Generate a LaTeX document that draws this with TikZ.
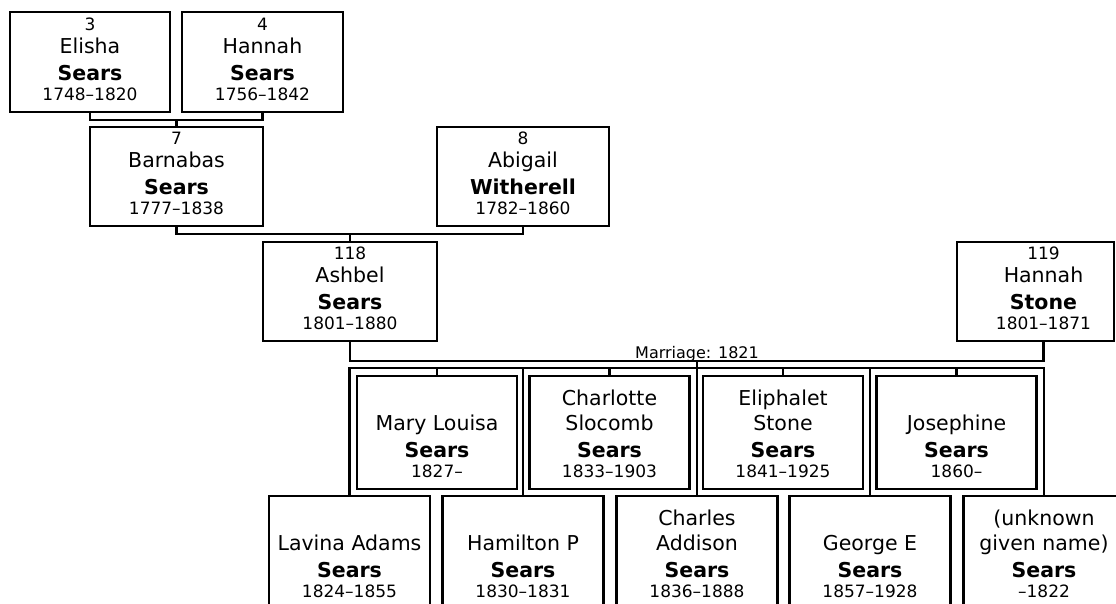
\documentclass[tikz,border=0pt]{standalone}
\usepackage{fontspec}
\setmainfont{DejaVu Sans}
\usetikzlibrary{positioning}

\newcommand{\yrs}{\fontsize{17}{20}\selectfont}

\tikzset{
  person/.style={draw, line width=2.3pt, inner sep=0pt, minimum width=160pt, minimum height=99pt},
  child/.style={person, minimum height=113pt},
  nametext/.style={align=center, inner sep=0pt, font=\fontsize{20.5}{25}\selectfont},
  link/.style={line width=2.3pt},
}

\begin{document}
\begin{tikzpicture}[x=1pt, y=-1pt]
  \useasboundingbox (0,0) rectangle (1116,603);

  % grandparents and parents
  \node[person, minimum height=100pt] (elisha) at (90,62) {};
  \node[nametext, above=12pt of elisha.south] (elishaT) {{\yrs 3}\\[-2pt]Elisha\\[2pt]\textbf{Sears}\\[-5pt]{\yrs 1748--1820}};
  \node[person, minimum width=161pt, minimum height=100pt] (hannahA) at (262.5,62) {};
  \node[nametext, above=12pt of hannahA.south] (hannahAT) {{\yrs 4}\\[-2pt]Hannah\\[2pt]\textbf{Sears}\\[-5pt]{\yrs 1756--1842}};
  \node[person, minimum width=173pt] (barnabas) at (176.5,176.5) {};
  \node[nametext, above=12pt of barnabas.south] (barnabasT) {{\yrs 7}\\[-2pt]Barnabas\\[2pt]\textbf{Sears}\\[-5pt]{\yrs 1777--1838}};
  \node[person, minimum width=172pt] (abigail) at (523,176.5) {};
  \node[nametext, above=12pt of abigail.south] (abigailT) {{\yrs 8}\\[-2pt]Abigail\\[2pt]\textbf{Witherell}\\[-5pt]{\yrs 1782--1860}};
  \node[person, minimum width=174pt] (ashbel) at (350,291.5) {};
  \node[nametext, above=12pt of ashbel.south] (ashbelT) {{\yrs 118}\\[-2pt]Ashbel\\[2pt]\textbf{Sears}\\[-5pt]{\yrs 1801--1880}};
  \node[person, minimum width=157pt] (hannahS) at (1035.5,291.5) {};
  \node[nametext, above=12pt of hannahS.south, xshift=8pt] (hannahST) {{\yrs 119}\\[-2pt]Hannah\\[2pt]\textbf{Stone}\\[-5pt]{\yrs 1801--1871}};

  % children, upper row
  \node[child] (mary) at (437,432.5) {};
  \node[nametext, above=12pt of mary.south] (maryT) {Mary Louisa\\[2pt]\textbf{Sears}\\[-5pt]{\yrs 1827--}};
  \node[child] (charlotte) at (609.5,432.5) {};
  \node[nametext, above=12pt of charlotte.south] (charlotteT) {Charlotte\\Slocomb\\[2pt]\textbf{Sears}\\[-5pt]{\yrs 1833--1903}};
  \node[child] (eliphalet) at (783,432.5) {};
  \node[nametext, above=12pt of eliphalet.south] (eliphaletT) {Eliphalet\\Stone\\[2pt]\textbf{Sears}\\[-5pt]{\yrs 1841--1925}};
  \node[child] (josephine) at (956.5,432.5) {};
  \node[nametext, above=12pt of josephine.south] (josephineT) {Josephine\\[2pt]\textbf{Sears}\\[-5pt]{\yrs 1860--}};

  % children, lower row
  \node[child, minimum width=161pt] (lavina) at (349.5,552.5) {};
  \node[nametext, above=12pt of lavina.south] (lavinaT) {Lavina Adams\\[2pt]\textbf{Sears}\\[-5pt]{\yrs 1824--1855}};
  \node[child, minimum width=161pt] (hamilton) at (523,552.5) {};
  \node[nametext, above=12pt of hamilton.south] (hamiltonT) {Hamilton P\\[2pt]\textbf{Sears}\\[-5pt]{\yrs 1830--1831}};
  \node[child, minimum width=161pt] (charles) at (697,552.5) {};
  \node[nametext, above=12pt of charles.south] (charlesT) {Charles\\Addison\\[2pt]\textbf{Sears}\\[-5pt]{\yrs 1836--1888}};
  \node[child, minimum width=161pt] (george) at (870,552.5) {};
  \node[nametext, above=12pt of george.south] (georgeT) {George E\\[2pt]\textbf{Sears}\\[-5pt]{\yrs 1857--1928}};
  \node[child, minimum width=161pt] (unknown) at (1044,552.5) {};
  \node[nametext, above=12pt of unknown.south] (unknownT) {(unknown\\given name)\\[2pt]\textbf{Sears}\\[-5pt]{\yrs --1822}};

  % couples
  \draw[link] (elisha.south) -- ++(0,7) coordinate (m34) -| (hannahA.south);
  \draw[link] (m34 -| barnabas.north) -- (barnabas.north);
  \draw[link] (barnabas.south) -- ++(0,7) coordinate (m78) -| (abigail.south);
  \draw[link] (m78 -| ashbel.north) -- (ashbel.north);
  \draw[link] (ashbel.south) -- ++(0,19) coordinate (m118) -| ([xshift=8pt]hannahS.south);
  \coordinate (mid) at (m118 -| charles.north);
  \coordinate (sib) at ([yshift=-7pt]mid);
  \node[font=\fontsize{16}{19}\selectfont, inner sep=0pt, anchor=base] (marr) at ([yshift=3pt]mid) {Marriage: 1821};

  % children lines
  \draw[link] (mid) -- (charles.north);
  \draw[link] (lavina.north) |- (sib) -| (unknown.north);
  \draw[link] (sib -| hamilton.north) -- (hamilton.north);
  \draw[link] (sib -| george.north) -- (george.north);
  \draw[link] (sib -| mary.north) -- (mary.north);
  \draw[link] (sib -| charlotte.north) -- (charlotte.north);
  \draw[link] (sib -| eliphalet.north) -- (eliphalet.north);
  \draw[link] (sib -| josephine.north) -- (josephine.north);
\end{tikzpicture}
\end{document}
